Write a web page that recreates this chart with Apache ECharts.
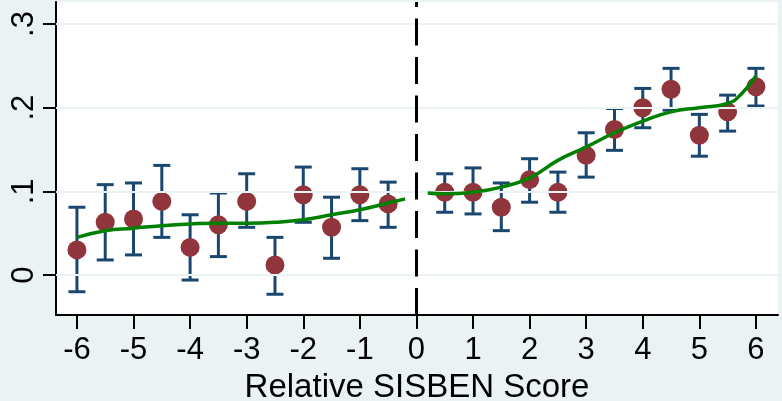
<!DOCTYPE html>
<html>
<head>
<meta charset="utf-8">
<script src="https://cdn.jsdelivr.net/npm/echarts@6/dist/echarts.min.js"></script>
<style>
html,body{margin:0;padding:0;background:#EAF2F3;}
#chart{width:782px;height:401px;}
</style>
</head>
<body>
<div id="chart"></div>
<script>
// ---- data ----
var binsLeft = [-6, -5.5, -5, -4.5, -4, -3.5, -3, -2.5, -2, -1.5, -1, -0.5];
var meanLeft = [0.030, 0.063, 0.067, 0.088, 0.033, 0.060, 0.088, 0.012, 0.096, 0.057, 0.096, 0.085];
var hiLeft   = [0.081, 0.108, 0.110, 0.131, 0.072, 0.098, 0.121, 0.045, 0.129, 0.093, 0.127, 0.111];
var loLeft   = [-0.020, 0.018, 0.024, 0.045, -0.006, 0.022, 0.057, -0.023, 0.063, 0.020, 0.065, 0.057];

var binsRight = [0.5, 1, 1.5, 2, 2.5, 3, 3.5, 4, 4.5, 5, 5.5, 6];
var meanRight = [0.099, 0.099, 0.081, 0.114, 0.099, 0.143, 0.174, 0.200, 0.222, 0.167, 0.195, 0.225];
var hiRight   = [0.121, 0.128, 0.110, 0.139, 0.123, 0.170, 0.199, 0.223, 0.247, 0.192, 0.215, 0.247];
var loRight   = [0.075, 0.073, 0.053, 0.087, 0.075, 0.117, 0.149, 0.176, 0.197, 0.142, 0.172, 0.202];

var fitLeftX  = [-6, -5.5, -5, -4.5, -4, -3.5, -3, -2.5, -2, -1.5, -1, -0.5, -0.2];
var fitLeftY  = [0.045, 0.053, 0.056, 0.059, 0.061, 0.062, 0.062, 0.063, 0.066, 0.072, 0.078, 0.086, 0.091];
var fitRightX = [0.2, 0.5, 1, 1.5, 2, 2.5, 3, 3.5, 4, 4.5, 5, 5.5, 5.75, 6];
var fitRightY = [0.098, 0.097, 0.099, 0.105, 0.116, 0.137, 0.153, 0.170, 0.184, 0.195, 0.200, 0.205, 0.217, 0.238];

var xTicks = [-6, -5, -4, -3, -2, -1, 0, 1, 2, 3, 4, 5, 6];
var yTicks = [0, 0.1, 0.2, 0.3];
var yTickLabels = ['0', '.1', '.2', '.3'];
var xTitle = 'Relative SISBEN Score';
var cutoff = 0;

// ---- build ----
function zip(a, b) { return a.map(function (v, i) { return [v, b[i]]; }); }
var bins = binsLeft.concat(binsRight);
var means = meanLeft.concat(meanRight);
var his = hiLeft.concat(hiRight);
var los = loLeft.concat(loRight);
var ciData = bins.map(function (b, i) { return [b, los[i], his[i]]; });

var FONT = 'Liberation Sans, Arial, Helvetica, sans-serif';
var chart = echarts.init(document.getElementById('chart'));
chart.setOption({
  backgroundColor: '#EAF2F3',
  animation: false,
  grid: {left: 56, right: 4, top: 2, bottom: 86, show: true, backgroundColor: '#ffffff', borderWidth: 0,
    containLabel: false, outerBoundsMode: 'none'},
  xAxis: {
    type: 'value', min: -6.37, max: 6.39,
    name: xTitle, nameLocation: 'middle', nameGap: 56,
    nameTextStyle: {fontFamily: FONT, fontSize: 33, color: '#000'},
    axisLine: {show: true, onZero: false, lineStyle: {color: '#000', width: 2}},
    axisTick: {show: true, length: 14, lineStyle: {color: '#000', width: 2}, customValues: xTicks},
    axisLabel: {fontFamily: FONT, fontSize: 31, color: '#000', margin: 20, customValues: xTicks,
      formatter: function (v) { return String(v); }},
    splitLine: {show: false}
  },
  yAxis: {
    type: 'value', min: -0.0478, max: 0.3263,
    axisLine: {show: true, onZero: false, lineStyle: {color: '#000', width: 2}},
    axisTick: {show: true, length: 13, lineStyle: {color: '#000', width: 2}, customValues: yTicks},
    axisLabel: {fontFamily: FONT, fontSize: 31, color: '#000', margin: 16, rotate: 90, customValues: yTicks,
      formatter: function (v) {
        for (var i = 0; i < yTicks.length; i++) { if (Math.abs(v - yTicks[i]) < 1e-9) return yTickLabels[i]; }
        return '';
      }},
    splitLine: {show: false}
  },
  series: [
    {
      type: 'line', data: [], z: 1, silent: true,
      markLine: {
        silent: true, symbol: 'none', animation: false, label: {show: false},
        lineStyle: {color: '#EAF2F3', width: 2, type: 'solid'},
        data: yTicks.map(function (t) { return {yAxis: t}; })
      }
    },
    {
      type: 'line', data: [], z: 2, silent: true,
      markLine: {
        silent: true, symbol: 'none', animation: false, label: {show: false},
        lineStyle: {color: '#000', width: 3, type: [27, 11.5]},
        data: [{xAxis: cutoff}]
      }
    },
    {
      type: 'custom', z: 3, silent: true, data: ciData,
      renderItem: function (params, api) {
        var x = api.value(0);
        var lo = api.coord([x, api.value(1)]);
        var hi = api.coord([x, api.value(2)]);
        var hw = 8.5;
        var style = {stroke: '#1a476f', lineWidth: 3, fill: null};
        return {
          type: 'group',
          children: [
            {type: 'line', shape: {x1: lo[0], y1: lo[1], x2: hi[0], y2: hi[1]}, style: style},
            {type: 'line', shape: {x1: lo[0] - hw, y1: lo[1], x2: lo[0] + hw, y2: lo[1]}, style: style},
            {type: 'line', shape: {x1: hi[0] - hw, y1: hi[1], x2: hi[0] + hw, y2: hi[1]}, style: style}
          ]
        };
      }
    },
    {
      type: 'scatter', z: 4, silent: true, symbol: 'circle', symbolSize: 19,
      itemStyle: {color: '#90353b', opacity: 1},
      data: zip(bins, means)
    },
    {
      type: 'line', z: 5, silent: true, smooth: true, showSymbol: false,
      lineStyle: {color: '#008000', width: 3.5},
      data: zip(fitLeftX, fitLeftY)
    },
    {
      type: 'line', z: 5, silent: true, smooth: true, showSymbol: false,
      lineStyle: {color: '#008000', width: 3.5},
      data: zip(fitRightX, fitRightY)
    }
  ]
});
</script>
</body>
</html>
